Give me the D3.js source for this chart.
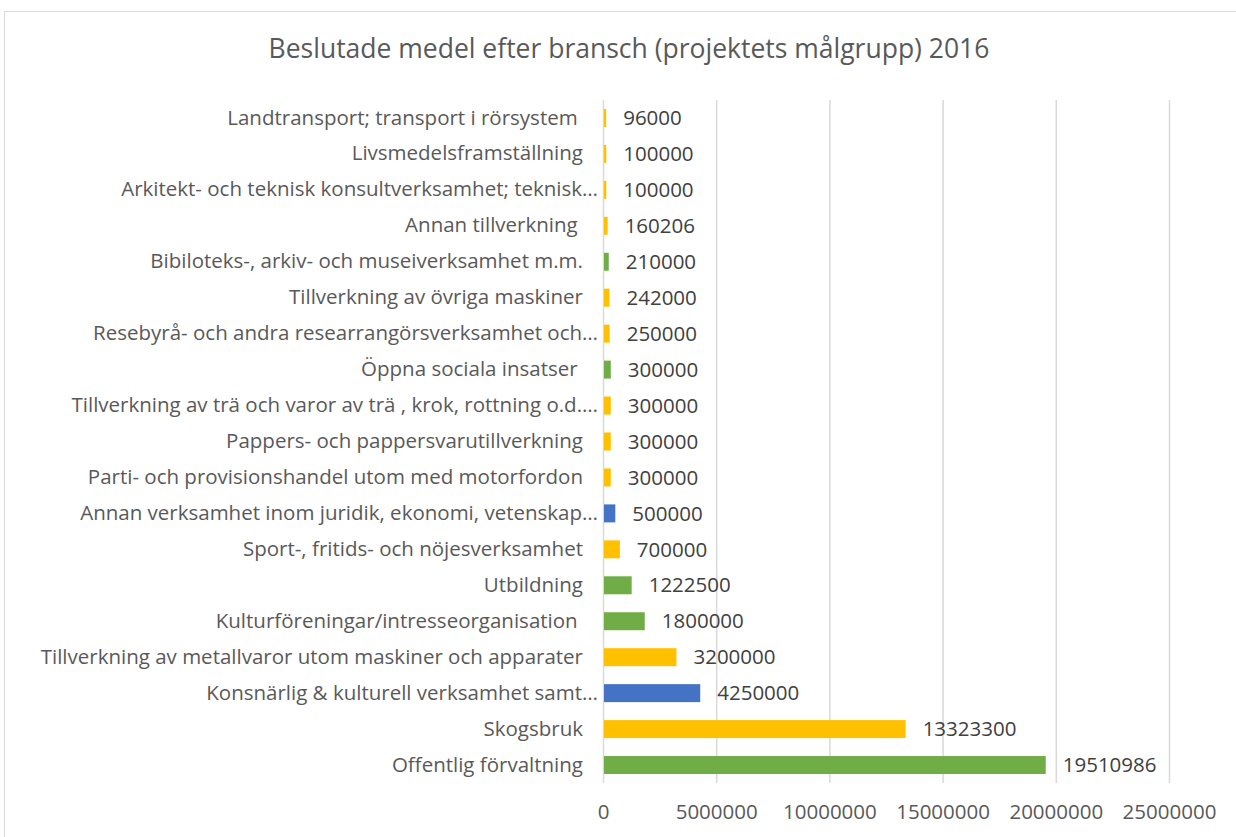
<!DOCTYPE html>
<html>
<head>
<meta charset="utf-8">
<script src="https://cdn.jsdelivr.net/npm/d3@7"></script>
<style>
  body { margin: 0; background: #fff; }
  svg text { font-family: "Open Sans", sans-serif; }
</style>
</head>
<body>
<svg id="chart" width="1236" height="837"></svg>
<script>
// chart data, top row first
const categories = [
  'Landtransport; transport i rörsystem ',
  'Livsmedelsframställning',
  'Arkitekt- och teknisk konsultverksamhet; teknisk…',
  'Annan tillverkning ',
  'Bibiloteks-, arkiv- och museiverksamhet m.m.',
  'Tillverkning av övriga maskiner',
  'Resebyrå- och andra researrangörsverksamhet och…',
  'Öppna sociala insatser ',
  'Tillverkning av trä och varor av trä , krok, rottning o.d.…',
  'Pappers- och pappersvarutillverkning',
  'Parti- och provisionshandel utom med motorfordon',
  'Annan verksamhet inom juridik, ekonomi, vetenskap…',
  'Sport-, fritids- och nöjesverksamhet',
  'Utbildning',
  'Kulturföreningar/intresseorganisation ',
  'Tillverkning av metallvaror utom maskiner och apparater',
  'Konsnärlig & kulturell verksamhet samt…',
  'Skogsbruk',
  'Offentlig förvaltning'
];
const values = [96000, 100000, 100000, 160206, 210000, 242000, 250000, 300000, 300000,
  300000, 300000, 500000, 700000, 1222500, 1800000, 3200000, 4250000, 13323300, 19510986];
const groups = ['g', 'g', 'g', 'g', 'k', 'g', 'g', 'k', 'g', 'g', 'g', 'b', 'g', 'k', 'k', 'g', 'b', 'g', 'k'];
const xTicks = [0, 5000000, 10000000, 15000000, 20000000, 25000000];

const colors = { g: '#FFC000', k: '#70AD47', b: '#4472C4' };

const svg = d3.select('#chart');
const m = { left: 603, right: 67, top: 100, bottom: 54 };
const W = 1236, H = 837;

// frame
svg.append('rect')
  .attr('x', 4.5).attr('y', 11.5)
  .attr('width', W).attr('height', H)
  .attr('fill', 'none').attr('stroke', '#d9d9d9');

svg.append('text')
  .attr('x', 629).attr('y', 58)
  .attr('text-anchor', 'middle')
  .attr('font-size', 26.5)
  .attr('fill', '#595959')
  .text('Beslutade medel efter bransch (projektets målgrupp) 2016');

const x = d3.scaleLinear().domain([0, 25000000]).range([m.left, W - m.right]);
const y = d3.scaleBand().domain(categories).range([m.top, H - m.bottom]).paddingInner(0.5).paddingOuter(0.25);

// gridlines
svg.append('g')
  .selectAll('line').data(xTicks).enter().append('line')
  .attr('x1', d => x(d) + 0.5).attr('x2', d => x(d) + 0.5)
  .attr('y1', m.top).attr('y2', H - m.bottom)
  .attr('stroke', '#d9d9d9').attr('stroke-width', 1.5);

// x axis labels
const xAxis = d3.axisBottom(x).tickValues(xTicks).tickSize(0).tickPadding(19).tickFormat(d3.format('d'));
const ax = svg.append('g').attr('transform', `translate(0,${H - m.bottom + 2})`).call(xAxis);
ax.select('.domain').remove();
ax.selectAll('text').attr('font-size', 20.5).attr('fill', '#595959').style('font-family', '"Open Sans", sans-serif');

// y axis labels, truncated ones sit closer to the axis
const yAxis = d3.axisLeft(y).tickSize(0);
const ay = svg.append('g').attr('transform', `translate(${m.left},0)`).call(yAxis);
ay.select('.domain').remove();
ay.selectAll('text').attr('font-size', 20.5).attr('fill', '#595959')
  .attr('x', d => d.endsWith('…') ? -5 : -20)
  .style('font-family', '"Open Sans", sans-serif').style('white-space', 'pre');

// bars
svg.append('g')
  .selectAll('rect').data(values).enter().append('rect')
  .attr('x', x(0) + 1)
  .attr('y', (d, i) => y(categories[i]))
  .attr('width', d => x(d) - x(0))
  .attr('height', y.bandwidth())
  .attr('fill', (d, i) => colors[groups[i]]);

// value labels
svg.append('g')
  .selectAll('text').data(values).enter().append('text')
  .attr('x', d => x(d) + 18)
  .attr('y', (d, i) => y(categories[i]) + y.bandwidth() / 2)
  .attr('dy', '0.35em')
  .attr('font-size', 20.5)
  .attr('fill', '#404040')
  .text(d => d);
</script>
</body>
</html>
